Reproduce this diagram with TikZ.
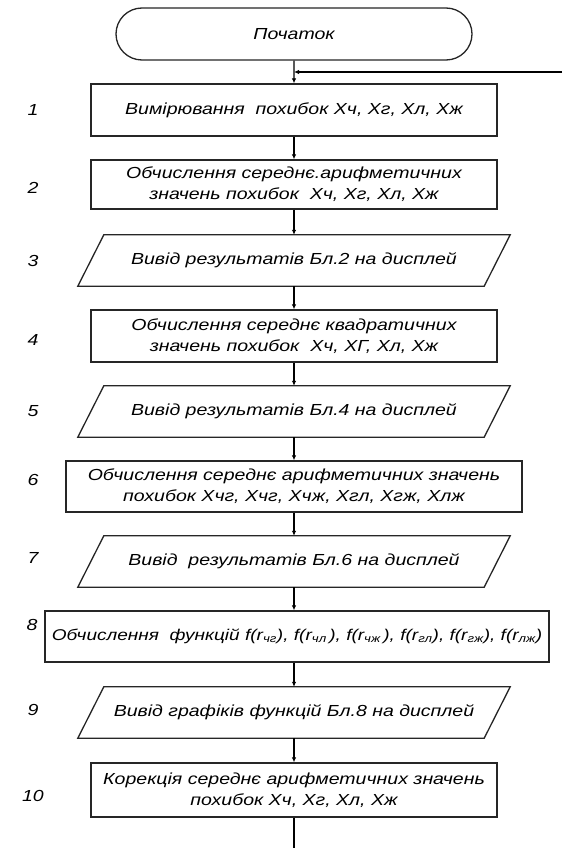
\documentclass[tikz,border=0pt]{standalone}
\usepackage{fontspec}
\newfontfamily\df{Liberation Sans}[FakeStretch=1.22]
\usetikzlibrary{shapes.misc,arrows.meta}
\begin{document}
\begin{tikzpicture}[x=1pt,y=-1pt,
  font=\df\itshape\fontsize{16}{21}\selectfont,
  shapeline/.style={draw=black!85, line width=1.3pt},
  box/.style={shapeline, rectangle, minimum width=406pt, minimum height=51pt, align=center, inner sep=0pt},
  iobox/.style={rectangle, minimum width=406pt, minimum height=51pt, align=center, inner sep=0pt},
  term/.style={shapeline, rounded rectangle, minimum width=356pt, minimum height=52pt, inner sep=0pt},
  num/.style={inner sep=0pt},
  conn/.style={draw=black, line width=1.3pt},
  flow/.style={conn, -{Latex[length=5pt,width=4.5pt]}},
]
\useasboundingbox (0,0) rectangle (562,848);
\fill[white] (0,0) rectangle (562,848);

\node[term] (t) at (294,34) {Початок};
\node[box, minimum height=52pt] (b1) at (294,110) {Вимірювання\ \ похибок Хч, Хг, Хл, Хж};
\node[box, minimum height=49pt] (b2) at (294,184.5) {Обчислення середнє.арифметичних\\значень похибок\ \ Хч, Хг, Хл, Хж};
\node[iobox] (p3) at (294,260.5) {Вивід результатів Бл.2 на дисплей};
\node[box, minimum height=52pt] (b4) at (294,336) {Обчислення середнє квадратичних\\значень похибок\ \ Хч, ХГ, Хл, Хж};
\node[iobox] (p5) at (294,411.5) {Вивід результатів Бл.4 на дисплей};
\node[box, minimum width=456pt] (b6) at (294,486.5) {Обчислення середнє арифметичних значень\\похибок Хчг, Хчг, Хчж, Хгл, Хгж, Хлж};
\node[iobox] (p7) at (294,561.5) {Вивід\ \ результатів Бл.6 на дисплей};
\node[box, minimum width=504pt, font=\df\itshape\fontsize{15.6}{20}\selectfont] (b8) at (297,636.5) {Обчислення\ \ функцій f(r\textsubscript{чг}), f(r\textsubscript{чл}\,), f(r\textsubscript{чж}\,), f(r\textsubscript{гл}), f(r\textsubscript{гж}), f(r\textsubscript{лж})};
\node[iobox] (p9) at (294,712.5) {Вивід графіків функцій Бл.8 на дисплей};
\node[box, minimum height=54pt] (b10) at (294,790) {Корекція середнє арифметичних значень\\похибок Хч, Хг, Хл, Хж};

\foreach \p in {p3,p5,p7,p9}
  \draw[shapeline] ([xshift=13pt]\p.north west) -- ([xshift=13pt]\p.north east)
    -- ([xshift=-13pt]\p.south east) -- ([xshift=-13pt]\p.south west) -- cycle;

\node[num] (n1) at (33,110) {1};
\node[num] (n2) at (33,188) {2};
\node[num] (n3) at (33,261) {3};
\node[num] (n4) at (33,340) {4};
\node[num] (n5) at (33,411) {5};
\node[num] (n6) at (33,480) {6};
\node[num] (n7) at (33,558) {7};
\node[num] (n8) at (32,625) {8};
\node[num] (n9) at (33,710) {9};
\node[num] (n10) at (33,796) {10};

\coordinate (fbin) at (562,72);
\coordinate (out) at (294,848);
\draw[flow] (t) -- (b1);
\draw[flow] (fbin) -- (fbin -| t.south);
\draw[flow] (b1) -- (b2);
\draw[flow] (b2) -- (p3);
\draw[flow] (p3) -- (b4);
\draw[flow] (b4) -- (p5);
\draw[flow] (p5) -- (b6);
\draw[flow] (b6) -- (p7);
\draw[flow] (p7) -- (b6 |- b8.north);
\draw[flow] (b6 |- b8.south) -- (p9);
\draw[flow] (p9) -- (b10);
\draw[conn] (b10) -- (out);
\end{tikzpicture}
\end{document}
